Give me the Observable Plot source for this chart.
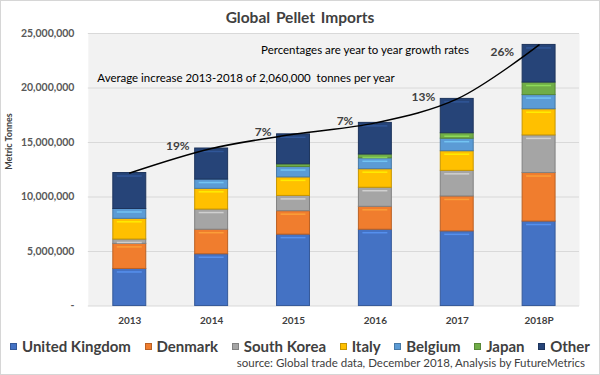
<!DOCTYPE html>
<html>
<head>
<meta charset="utf-8">
<script src="https://cdn.jsdelivr.net/npm/d3@7"></script>
<script src="https://cdn.jsdelivr.net/npm/@observablehq/plot@0.6"></script>
<style>
  html, body { margin: 0; padding: 0; background: #fff; }
  #chart { position: relative; width: 600px; height: 375px; box-sizing: border-box; border: 1px solid #d6d6d6; background: #fff; overflow: hidden; font-family: Lato, "Open Sans", sans-serif; }
  #title { position: absolute; left: 0; right: 0; top: 7px; text-align: center; font-size: 15.5px; font-weight: 700; color: #404040; word-spacing: 2px; }
  #plot { position: absolute; left: -1px; top: 25px; }
  #legend { position: absolute; left: 9px; right: 9px; top: 336px; display: flex; justify-content: space-between; font-size: 15px; font-weight: 700; color: #404040; }
  #legend .item { display: flex; align-items: center; white-space: nowrap; }
  #legend .sw { width: 7px; height: 7px; margin-right: 5px; box-sizing: border-box; }
  #source { position: absolute; right: 14px; top: 355px; font-size: 11.5px; color: #404040; }
</style>
</head>
<body>
<div id="chart">
  <div id="title">Global Pellet Imports</div>
  <div id="plot"></div>
  <div id="legend"></div>
  <div id="source">source: Global trade data, December 2018, Analysis by FutureMetrics</div>
</div>
<script>
// ---- data (tonnes) ----
const years = ["2013", "2014", "2015", "2016", "2017", "2018P"];
const countries = ["United Kingdom", "Denmark", "South Korea", "Italy", "Belgium", "Japan", "Other"];
const colors = ["#4472c4", "#f07d2e", "#a5a5a5", "#ffc000", "#5b9bd5", "#70ad47", "#264478"];
const unitedKingdom = [3400000, 4750000, 6550000, 7000000, 6850000, 7750000];
const denmark       = [2300000, 2250000, 2150000, 2100000, 3200000, 4450000];
const southKorea    = [400000, 1850000, 1400000, 1750000, 2350000, 3450000];
const italy         = [1900000, 1900000, 1700000, 1700000, 1800000, 2400000];
const belgium       = [900000, 850000, 950000, 1000000, 1150000, 1300000];
const japan         = [0, 0, 250000, 350000, 500000, 1150000];
const other         = [3300000, 2850000, 2750000, 2900000, 3150000, 3450000];
const growthLabels  = ["", "19%", "7%", "7%", "13%", "26%"];
const yTicks = [0, 5000000, 10000000, 15000000, 20000000, 25000000];

const series = [unitedKingdom, denmark, southKorea, italy, belgium, japan, other];

// stacked table
const rows = [];
years.forEach((yr, i) => {
  let base = 0;
  countries.forEach((c, j) => {
    const v = series[j][i];
    if (v > 0) rows.push({year: yr, country: c, color: colors[j], y1: base, y2: base + v, h: v});
    base += v;
  });
});
const totals = years.map((yr, i) => ({year: yr, total: d3.sum(series, s => s[i]), label: growthLabels[i]}));
const darker = c => d3.color(c).darker(0.7).formatHex();
const lighter = c => d3.color(c).brighter(0.9).formatHex();

const fmt = d => d === 0 ? "-" : d3.format(",")(d);

const chart = Plot.plot({
  width: 600,
  height: 306,
  marginTop: 7,
  marginBottom: 26,
  marginLeft: 88,
  marginRight: 20,
  style: {fontFamily: "Lato, 'Open Sans', sans-serif", background: "transparent"},
  x: {domain: years, paddingInner: 0.6, paddingOuter: 0.3},
  y: {domain: [0, 25000000]},
  marks: [
    Plot.frame({fill: "#f2f2f2", stroke: "none"}),
    Plot.gridY(yTicks, {stroke: "#d9d9d9", strokeOpacity: 1}),
    Plot.axisY({ticks: yTicks, tickFormat: fmt, tickSize: 0, tickPadding: 14, fontSize: 10.5, fontWeight: 700, fill: "#595959", label: null}),
    Plot.axisX({tickSize: 0, tickPadding: 11, fontSize: 10, fontWeight: 700, fill: "#404040", label: null}),
    Plot.text(["Metric Tonnes"], {frameAnchor: "left", dx: -79, rotate: -90, fontSize: 9, fontWeight: 700, fill: "#404040"}),
    Plot.barY(rows, {x: "year", y1: "y1", y2: "y2", fill: "color", stroke: d => darker(d.color), strokeWidth: 1}),
    Plot.tickY(rows.filter(d => d.h > 300000), {x: "year", y: "y2", dy: 3, stroke: d => lighter(d.color), strokeWidth: 1.5, strokeOpacity: 0.7, insetLeft: 4, insetRight: 4}),
    Plot.line(totals, {x: "year", y: "total", curve: "catmull-rom", stroke: "#000", strokeWidth: 1.5}),
    Plot.text(totals.filter(d => d.label && d.year !== "2018P"), {x: "year", y: "total", text: "label", dx: -22, dy: -2, textAnchor: "end", fontSize: 12, fontWeight: 700, fill: "#404040"}),
    Plot.text(totals.filter(d => d.year === "2018P"), {x: "year", y: "total", text: "label", dx: -25, dy: 7, textAnchor: "end", fontSize: 12, fontWeight: 700, fill: "#404040"}),
    Plot.text(["Percentages are year to year growth rates"], {frameAnchor: "top-left", dx: 173, dy: 17, textAnchor: "start", lineAnchor: "middle", fontSize: 11.5, fill: "#000"}),
    Plot.text(["Average increase 2013-2018 of 2,060,000  tonnes per year"], {frameAnchor: "top-left", dx: 9, dy: 45, textAnchor: "start", lineAnchor: "middle", fontSize: 11.5, fill: "#000"})
  ]
});
document.getElementById("plot").appendChild(chart);

// legend
const legend = d3.select("#legend");
countries.forEach((c, j) => {
  const it = legend.append("div").attr("class", "item");
  it.append("div").attr("class", "sw")
    .style("background", colors[j])
    .style("border", "1px solid " + darker(colors[j]));
  it.append("span").text(c);
});
</script>
</body>
</html>
